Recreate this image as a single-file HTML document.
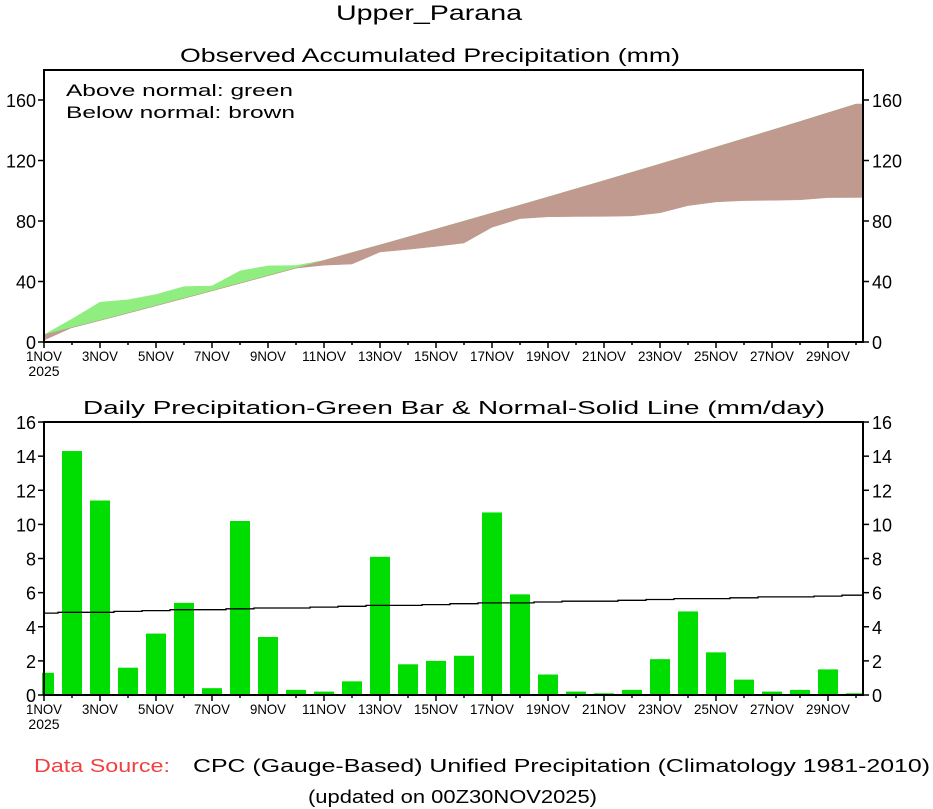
<!DOCTYPE html>
<html><head><meta charset="utf-8"><style>
html,body{margin:0;padding:0;background:#fff;}
svg{display:block;font-family:"Liberation Sans",sans-serif;}
</style></head><body>
<svg id="s" width="933" height="809" viewBox="0 0 933 809" xmlns="http://www.w3.org/2000/svg">
<text x="336" y="20" font-size="21" textLength="186" lengthAdjust="spacingAndGlyphs">Upper_Parana</text>
<text x="180" y="62" font-size="19" textLength="500" lengthAdjust="spacingAndGlyphs">Observed Accumulated Precipitation (mm)</text>
<text x="83" y="414" font-size="18" textLength="742" lengthAdjust="spacingAndGlyphs">Daily Precipitation-Green Bar &amp; Normal-Solid Line (mm/day)</text>
<text x="66" y="96" font-size="17" textLength="227" lengthAdjust="spacingAndGlyphs">Above normal: green</text>
<text x="66" y="118" font-size="17" textLength="229" lengthAdjust="spacingAndGlyphs">Below normal: brown</text>
<text x="34" y="772" font-size="18" fill="#f04040" textLength="136" lengthAdjust="spacingAndGlyphs">Data Source:</text>
<text x="193" y="772" font-size="18" textLength="737" lengthAdjust="spacingAndGlyphs">CPC (Gauge-Based) Unified Precipitation (Climatology 1981-2010)</text>
<text x="308" y="803" font-size="18" textLength="289" lengthAdjust="spacingAndGlyphs">(updated on 00Z30NOV2025)</text>
<g id="g"></g>
</svg>
<script>
var NS="http://www.w3.org/2000/svg",g=document.getElementById("g");
function el(t,a,txt){var e=document.createElementNS(NS,t);for(var k in a)e.setAttribute(k,a[k]);if(txt!=null)e.textContent=txt;g.appendChild(e);return e;}
var L=44,R=863,dx=28;
function X(d){return L+(d-1)*dx;}
var bars=[1.3,14.3,11.4,1.6,3.6,5.4,0.4,10.2,3.4,0.3,0.2,0.8,8.1,1.8,2.0,2.3,10.7,5.9,1.2,0.2,0.1,0.3,2.1,4.9,2.5,0.9,0.2,0.3,1.5,0.1];
var norm=[];for(var d=1;d<=30;d++)norm.push(4.8+(d-1)*0.036);
var T0=342,TS=1.5125;function YT(v){return T0-v*TS;}
var obs=[],nc=[],so=0,sn=0;
for(var i=0;i<30;i++){so+=bars[i];sn+=norm[i];obs.push(so*0.975);nc.push(sn*0.985);}
var gu=[],gd=[],up=[],dn=[];
for(var i=0;i<30;i++){var x=Math.min(R,X(i+1));var o=obs[i],m=nc[i];
 gu.push([x,Math.max(o,m)]);gd.push([x,m]);up.push([x,m]);dn.push([x,Math.min(o,m)]);}
[gu,gd,up,dn].forEach(a=>{var l=a[a.length-1];a.push([R,l[1]]);});
function poly(top,bot,fill){var p=top.map(a=>a[0].toFixed(1)+","+YT(a[1]).toFixed(1));bot.slice().reverse().forEach(a=>p.push(a[0].toFixed(1)+","+YT(a[1]).toFixed(1)));el("polygon",{points:p.join(" "),fill:fill,stroke:fill,"stroke-width":0.5});}
poly(gu,gd,"#90ee80");poly(up,dn,"#c09a8e");
el("rect",{x:L,y:70,width:R-L,height:T0-70,fill:"none",stroke:"#000","stroke-width":2});
[0,40,80,120,160].forEach(v=>{var y=YT(v);
 el("line",{x1:L-6,y1:y,x2:L,y2:y,stroke:"#000","stroke-width":1.5});
 el("line",{x1:R,y1:y,x2:R+6,y2:y,stroke:"#000","stroke-width":1.5});
 el("text",{x:L-8,y:y+7,"font-size":18,"text-anchor":"end"},v);
 el("text",{x:R+9,y:y+7,"font-size":18},v);});
var B0=695,BS=17.06;function YB(v){return B0-v*BS;}
for(var i=0;i<30;i++){var cx=X(i+1);var x0=cx-10,x1=cx+10;if(x0<L)x0=L-2;if(x1>R)x1=R;
 el("rect",{x:x0,y:YB(bars[i]),width:x1-x0,height:bars[i]*BS,fill:"#00dd00"});}
var p=[];for(var i=0;i<30;i++){var xa=Math.max(L,X(i+1)-14),xb=Math.min(R,X(i+1)+14);var v=4.8+Math.round((i*0.036)*20)/20;p.push(xa+","+YB(v).toFixed(1));p.push(xb+","+YB(v).toFixed(1));}
el("polyline",{points:p.join(" "),fill:"none",stroke:"#000","stroke-width":1.3});
el("rect",{x:L,y:422,width:R-L,height:B0-422,fill:"none",stroke:"#000","stroke-width":2});
for(var v=0;v<=16;v+=2){var y=YB(v);
 el("line",{x1:L-6,y1:y,x2:L,y2:y,stroke:"#000","stroke-width":1.5});
 el("line",{x1:R,y1:y,x2:R+6,y2:y,stroke:"#000","stroke-width":1.5});
 el("text",{x:L-8,y:y+7,"font-size":18,"text-anchor":"end"},v);
 el("text",{x:R+9,y:y+7,"font-size":18},v);}
[T0,B0].forEach(function(yb){
 for(var d=1;d<=30;d++){var x=X(d);el("line",{x1:x,y1:yb,x2:x,y2:yb+(d%2?6:3),stroke:"#000","stroke-width":1.5});}
 for(var d=1;d<=29;d+=2){var x=X(d);el("text",{x:x,y:yb+19,"font-size":14,"text-anchor":"middle",textLength:d<10?36:44,lengthAdjust:"spacingAndGlyphs"},d+"NOV");}
 el("text",{x:X(1),y:yb+34,"font-size":14,"text-anchor":"middle"},"2025");
});
</script>
</body></html>
